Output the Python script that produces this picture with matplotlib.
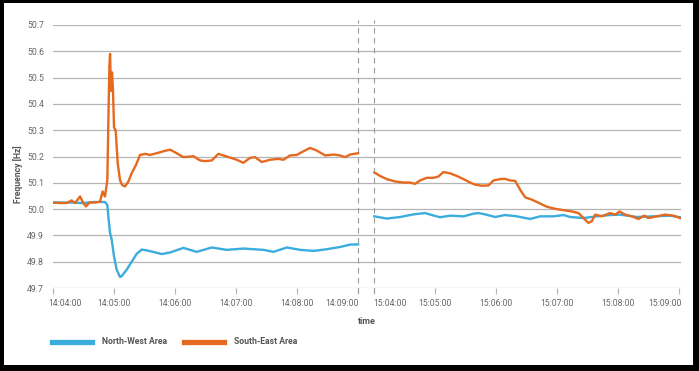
import matplotlib
matplotlib.use("Agg")
import matplotlib.pyplot as plt
from matplotlib.patches import Rectangle
import matplotlib.transforms as mtransforms

plt.rcParams['font.family'] = ['Roboto', 'DejaVu Sans']

# ---- data (seconds after the start of each window, frequency in Hz) ----
nw1_t = [0, 17.2, 30.3, 40.2, 51.6, 53.9, 55.2, 56.6, 58.2, 60.5, 63.1, 66.4, 68.0, 73.0, 77.9,
         82.8, 87.7, 92.7, 99.3, 107.4, 115.6, 128.7, 141.8, 156.6, 171.3, 187.7, 207.4, 217.3,
         230.4, 243.6, 256.7, 269.8, 282.8, 292.7, 300.5]
nw1_v = [50.025, 50.025, 50.023, 50.027, 50.027, 50.016, 49.96, 49.91, 49.884, 49.82, 49.77,
         49.742, 49.745, 49.77, 49.80, 49.83, 49.846, 49.843, 49.837, 49.829, 49.835, 49.8525,
         49.8375, 49.854, 49.845, 49.85, 49.845, 49.8375, 49.854, 49.845, 49.841, 49.8475,
         49.856, 49.865, 49.866]

se1_t = [0, 7.4, 13.9, 18.9, 22.1, 27.1, 30.3, 33.0, 36.2, 41.8, 46.7, 49.3, 51.6, 53.9, 55.2,
         55.9, 56.6, 57.5, 58.5, 59.5, 60.5, 62.1, 64.1, 66.4, 68.4, 71.3, 74.6, 77.9, 82.1, 86.1,
         91.0, 95.9, 102.5, 109.1, 115.6, 120.5, 128.7, 138.6, 145.1, 150.0, 156.6, 163.1, 171.3,
         181.2, 187.7, 194.3, 199.2, 205.7, 213.9, 222.1, 227.1, 233.6, 240.2, 246.8, 253.3,
         259.9, 268.1, 276.3, 282.8, 287.8, 292.7, 300.5]
se1_v = [50.025, 50.023, 50.023, 50.033, 50.023, 50.048, 50.023, 50.010, 50.025, 50.025, 50.028,
         50.067, 50.048, 50.11, 50.39, 50.54, 50.59, 50.45, 50.52, 50.45, 50.31, 50.30, 50.175,
         50.11, 50.092, 50.086, 50.105, 50.137, 50.168, 50.206, 50.21, 50.206, 50.2125, 50.22,
         50.226, 50.216, 50.1975, 50.201, 50.185, 50.1825, 50.185, 50.21, 50.20, 50.1875, 50.176,
         50.195, 50.1975, 50.179, 50.1875, 50.191, 50.1875, 50.204, 50.206, 50.22, 50.2325,
         50.2225, 50.204, 50.2075, 50.204, 50.1975, 50.2075, 50.2125]

nw2_t = [0, 12.2, 25.3, 38.4, 49.9, 56.4, 64.6, 74.5, 87.6, 97.4, 102.3, 108.9, 118.7, 128.5,
         140.0, 153.1, 163.0, 176.1, 186.0, 192.5, 205.6, 218.8, 231.8, 241.6, 258.0, 274.4,
         290.8, 300.6]
nw2_v = [49.9725, 49.964, 49.97, 49.98, 49.985, 49.9775, 49.969, 49.975, 49.9725, 49.9825,
         49.985, 49.98, 49.97, 49.9775, 49.9725, 49.9625, 49.9725, 49.9725, 49.9775, 49.97,
         49.966, 49.9725, 49.9775, 49.979, 49.97, 49.9725, 49.975, 49.969]

se2_t = [0, 5.6, 12.2, 20.4, 28.6, 35.1, 40.0, 44.9, 51.5, 58.1, 63.0, 67.9, 74.5, 81.0, 87.6,
         94.1, 99.0, 105.6, 112.2, 117.1, 123.6, 128.5, 133.5, 138.4, 143.3, 148.2, 154.8, 161.4,
         169.6, 177.8, 186.0, 194.2, 200.7, 205.6, 210.5, 213.8, 217.1, 223.6, 231.8, 236.8,
         241.0, 246.6, 253.1, 259.7, 265.3, 269.5, 277.7, 285.9, 294.1, 300.6]
se2_v = [50.139, 50.126, 50.114, 50.105, 50.101, 50.101, 50.096, 50.109, 50.119, 50.119, 50.124,
         50.141, 50.136, 50.126, 50.114, 50.101, 50.093, 50.089, 50.09, 50.109, 50.114, 50.115,
         50.109, 50.1075, 50.074, 50.045, 50.036, 50.024, 50.009, 50.001, 49.996, 49.991,
         49.985, 49.966, 49.9475, 49.954, 49.979, 49.9725, 49.985, 49.979, 49.991, 49.979,
         49.9725, 49.9625, 49.975, 49.966, 49.9725, 49.979, 49.975, 49.966]

tick_labels_1 = ["14:04:00", "14:05:00", "14:06:00", "14:07:00", "14:08:00", "14:09:00"]
tick_labels_2 = ["15:04:00", "15:05:00", "15:06:00", "15:07:00", "15:08:00", "15:09:00"]
tick_secs = [0, 60, 120, 180, 240, 300]
y_ticks = [49.7, 49.8, 49.9, 50.0, 50.1, 50.2, 50.3, 50.4, 50.5, 50.6, 50.7]
series_names = ["North-West Area", "South-East Area"]

# ---- styling ----
BLUE = '#3AACDD'
ORANGE = '#E5691E'
GAP = 316.5  # axis position of the second window start

W, H = 699, 371
fig = plt.figure(figsize=(W / 100, H / 100), dpi=100, facecolor='black')
fig.patches.append(Rectangle((4 / W, 1 - 365 / H), (693 - 4) / W, (365 - 3) / H,
                             transform=fig.transFigure, facecolor='white', edgecolor='none',
                             zorder=-5))

ax = fig.add_axes([52.5 / W, 1 - 288 / H, (681 - 52.5) / W, 263 / H])
ax.set_facecolor('none')

for y in y_ticks:
    ax.axhline(y, color='#b4b4b4', lw=0.9, zorder=1)

ax.plot(nw1_t, nw1_v, color=BLUE, lw=1.7, zorder=3, solid_joinstyle='round')
ax.plot(se1_t, se1_v, color=ORANGE, lw=1.7, zorder=4, solid_joinstyle='round')
ax.plot([GAP + t for t in nw2_t], nw2_v, color=BLUE, lw=1.7, zorder=3, solid_joinstyle='round')
ax.plot([GAP + t for t in se2_t], se2_v, color=ORANGE, lw=1.7, zorder=4, solid_joinstyle='round')

trans = mtransforms.blended_transform_factory(ax.transData, ax.transAxes)
for xv in (300.5, GAP):
    ax.plot([xv, xv], [-0.02, 1.02], transform=trans, color='#9a9a9a', lw=0.8,
            dashes=(5, 4), clip_on=False, zorder=2)

ax.set_xlim(0, 618)
ax.set_ylim(49.7, 50.7)
for s in ax.spines.values():
    s.set_visible(False)

ax.set_yticks(y_ticks)
ax.set_yticklabels([f"{v:.1f}" for v in y_ticks])
ax.tick_params(axis='y', length=0, pad=6, labelsize=6.3, labelcolor='#666666')

xt = tick_secs + [GAP + s for s in tick_secs]
ax.set_xticks(xt)
ax.set_xticklabels(tick_labels_1 + tick_labels_2)
ax.tick_params(axis='x', length=4, width=0.8, color='#b4b4b4', pad=4,
               labelsize=6.2, labelcolor='#666666')

# edge labels are kept inside each window like the reference
labels = ax.get_xticklabels()
adjust = {0: ('left', -4), 5: ('right', 1), 6: ('left', -1), 11: ('right', 2)}
for i, (ha, dx) in adjust.items():
    labels[i].set_ha(ha)
    labels[i].set_transform(labels[i].get_transform() +
                            mtransforms.ScaledTranslation(dx / 100, 0, fig.dpi_scale_trans))

fig.text(18 / W, 1 - 174 / H, "Frequency [Hz]", rotation=90, ha='center', va='center',
         fontsize=6.2, fontweight='bold', color='#555555')
fig.text(367 / W, 1 - 322 / H, "time", ha='center', va='center',
         fontsize=6.4, fontweight='bold', color='#555555')

# legend
ly = 1 - 342 / H
fig.add_artist(plt.Line2D([52 / W, 92 / W], [ly, ly], color=BLUE, lw=3.8, transform=fig.transFigure))
fig.text(102 / W, ly, series_names[0], ha='left', va='center', fontsize=6.2,
         fontweight='bold', color='#555555')
fig.add_artist(plt.Line2D([184 / W, 224 / W], [ly, ly], color=ORANGE, lw=3.8, transform=fig.transFigure))
fig.text(234 / W, ly, series_names[1], ha='left', va='center', fontsize=6.2,
         fontweight='bold', color='#555555')

fig.savefig('out.png', dpi=100, facecolor='black')
